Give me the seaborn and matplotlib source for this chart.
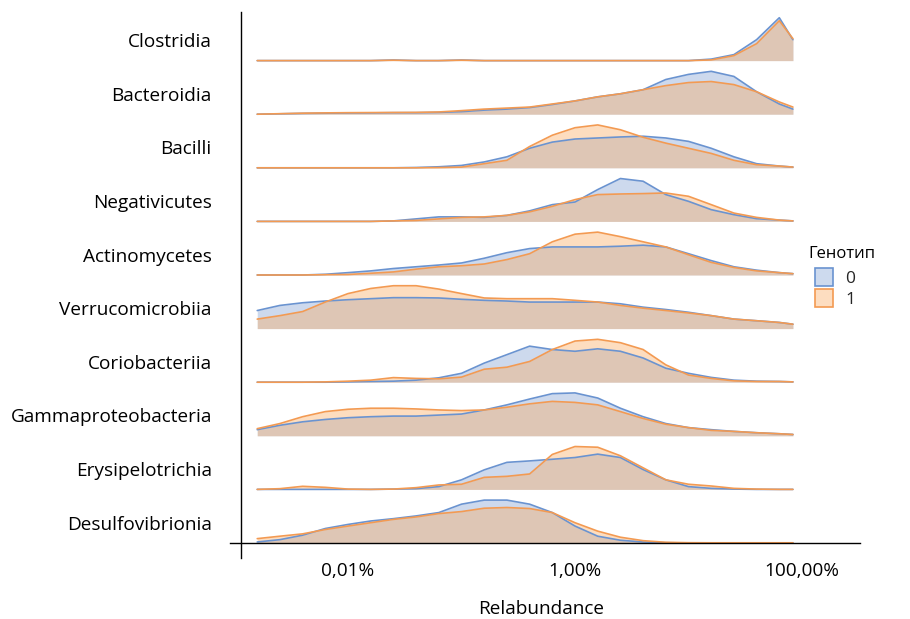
import matplotlib
matplotlib.use("Agg")
import numpy as np
import pandas as pd
import matplotlib.pyplot as plt
from matplotlib.patches import Patch
from matplotlib.ticker import FixedLocator, FixedFormatter, NullLocator
import seaborn as sns

# Bacterial classes, top to bottom
classes = ["Clostridia", "Bacteroidia", "Bacilli", "Negativicutes", "Actinomycetes",
           "Verrucomicrobiia", "Coriobacteriia", "Gammaproteobacteria",
           "Erysipelotrichia", "Desulfovibrionia"]

# Evaluation points of the density curves, log10 of relative abundance (%)
log_grid = [-2.8, -2.6, -2.4, -2.2, -2.0, -1.8, -1.6, -1.4, -1.2, -1.0, -0.8, -0.6,
            -0.4, -0.2, 0.0, 0.2, 0.4, 0.6, 0.8, 1.0, 1.2, 1.4, 1.6, 1.8, 1.92]

genotypes = ["0", "1"]

# Density of each class per genotype (arbitrary units)
clostridia_g0 = [0, 0, 0, 0, 0, 0, 0.6, 0, 0, 0.6, 0, 0, 0, 0, 0, 0, 0, 0, 0, 0, 1.5, 6, 21, 43, 21]
clostridia_g1 = [0, 0, 0, 0, 0, 0, 0.4, 0, 0, 0.4, 0, 0, 0, 0, 0, 0, 0, 0, 0, 0, 0.7, 5, 17, 40, 22]

bacteroidia_g0 = [0, 0.4, 0.8, 1, 1.2, 1.3, 1.5, 1.5, 1.8, 2.5, 4, 5, 6.5, 9.5, 13, 17, 20, 24, 34, 39, 42, 37, 22, 10, 5]
bacteroidia_g1 = [0, 0.5, 1, 1.3, 1.5, 1.6, 1.7, 1.8, 2.2, 3.5, 5, 6, 7, 10, 13, 17, 20, 24, 28, 31, 32, 29, 22, 12, 7]

bacilli_g0 = [0, 0, 0, 0, 0, 0, 0, 0.3, 1, 2.3, 5.7, 10.7, 19, 25, 28, 29, 30, 30.7, 29, 25.7, 19, 10.7, 4, 1.7, 0.7]
bacilli_g1 = [0, 0, 0, 0, 0, 0, 0, 0, 0.2, 0.7, 4, 7.3, 20.7, 31.7, 39, 41.7, 37, 29.7, 24, 19, 14, 7.3, 3, 1.7, 0.7]

negativicutes_g0 = [0, 0, 0, 0, 0, 0, 0.5, 2.5, 4.5, 4.5, 4, 6, 10.5, 16.7, 19.3, 31.7, 42.7, 40, 26.7, 20, 11.7, 6.7, 2.7, 1.3, 0.5]
negativicutes_g1 = [0, 0, 0, 0, 0, 0, 0.5, 1, 2.5, 4, 4.5, 6, 9.5, 15, 21.7, 26.7, 27.3, 27.7, 28.3, 25, 16.7, 8.3, 4, 1.3, 0.5]

actinomycetes_g0 = [0, 0, 0, 0.7, 2.3, 4, 6.3, 8, 9.7, 11.7, 16.3, 21.7, 25.7, 27.3, 27.3, 27.3, 28, 29, 27.3, 20.7, 14, 8, 4.7, 2.3, 1.3]
actinomycetes_g1 = [0, 0, 0, 0.3, 0.5, 1.7, 3, 5.7, 8, 9, 10.7, 15, 20.7, 32.3, 39.7, 41.7, 37.3, 32.3, 27.3, 19.7, 12.3, 7.3, 4, 2.3, 1.3]

verrucomicrobiia_g0 = [17.7, 22.7, 25.3, 27, 28.3, 29.3, 30.3, 30.3, 30, 28.7, 27.7, 27, 26, 26, 26, 26, 24.3, 21, 18.7, 16, 12.7, 9.3, 7.7, 6, 4.3]
verrucomicrobiia_g1 = [9.3, 12.7, 16.7, 26, 34.3, 39.3, 42, 42, 38.7, 34.3, 30, 29.3, 29.3, 29.3, 27.7, 26, 22.7, 20, 17.7, 15.3, 12.7, 9.3, 7.7, 6, 4.3]

coriobacteriia_g0 = [0, 0, 0, 0, 0.3, 0.7, 1, 2, 4.3, 8.7, 18.7, 27, 35.3, 32, 30.3, 32.7, 30.3, 23.7, 13.7, 8.7, 4.7, 2, 1, 0.7, 0.3]
coriobacteriia_g1 = [0, 0, 0, 0.3, 1, 2, 4.5, 3.7, 3.3, 5, 12.7, 14.7, 20.3, 32, 40.3, 42, 38.7, 32, 17, 7, 3.7, 1.3, 0.7, 0.7, 0.3]

gammaproteobacteria_g0 = [6, 10.3, 13.7, 16, 17.7, 18.7, 19.3, 19.3, 20.3, 21.3, 25.3, 30.3, 36, 41.3, 42, 37, 27, 18.7, 12, 8, 6, 4.3, 3, 2, 1.3]
gammaproteobacteria_g1 = [7, 12, 18.7, 23.7, 26, 27, 27, 26.3, 25.3, 24.7, 25.3, 28, 31.3, 33.7, 32.7, 30.3, 23.7, 17, 11.3, 8, 5.3, 4.3, 3, 2, 1.3]

erysipelotrichia_g0 = [0, 0, 0, 0, 0, 0, 0.3, 0.7, 2.7, 9.3, 19, 26.3, 27.7, 29.3, 31, 34.3, 31, 19.3, 9.3, 2.7, 1, 0.3, 0, 0, 0]
erysipelotrichia_g1 = [0, 0.7, 3, 2, 0.3, 0, 0.3, 1.7, 4.3, 5, 11.7, 12.7, 15, 34, 41.7, 41, 32.7, 21, 9.3, 5, 3.3, 1, 0.3, 0, 0]

desulfovibrionia_g0 = [1, 3.3, 7.7, 14.3, 18.3, 21.7, 24, 26.7, 30, 38.3, 42.3, 42.3, 38.3, 30, 16.7, 6.7, 2.7, 1, 0.3, 0, 0, 0, 0, 0, 0]
desulfovibrionia_g1 = [4.3, 6.7, 9, 13.3, 16.7, 20, 23.3, 25.7, 29, 31, 34.3, 35, 34, 30, 20, 11.7, 5.7, 2.3, 0.7, 0.3, 0.2, 0.2, 0.2, 0.2, 0.2]

series = [
    (clostridia_g0, clostridia_g1),
    (bacteroidia_g0, bacteroidia_g1),
    (bacilli_g0, bacilli_g1),
    (negativicutes_g0, negativicutes_g1),
    (actinomycetes_g0, actinomycetes_g1),
    (verrucomicrobiia_g0, verrucomicrobiia_g1),
    (coriobacteriia_g0, coriobacteriia_g1),
    (gammaproteobacteria_g0, gammaproteobacteria_g1),
    (erysipelotrichia_g0, erysipelotrichia_g1),
    (desulfovibrionia_g0, desulfovibrionia_g1),
]

tick_values = [0.01, 1, 100]
tick_labels = ["0,01%", "1,00%", "100,00%"]

# Long table: one row per class / genotype / grid point
rows = []
n = len(classes)
for i, (name, pair) in enumerate(zip(classes, series)):
    peak = max(max(pair[0]), max(pair[1]))
    base = n - 1 - i
    for g, vals in zip(genotypes, pair):
        for lg, v in zip(log_grid, vals):
            rows.append({"class": name, "genotype": g, "abundance": 10.0 ** lg,
                         "base": base, "ridge": base + 0.8 * v / peak})
df = pd.DataFrame(rows)

line_colors = {"0": "#6a93d0", "1": "#f39a52"}
fill_colors = {"0": "#82a2d4", "1": "#faaa61"}
legend_faces = {"0": "#cddaee", "1": "#fdddc0"}

sns.set_theme(style="white")
plt.rcParams["font.family"] = ["Open Sans", "DejaVu Sans"]
FS = 13.7

W, H = 910, 619
fig = plt.figure(figsize=(W / 100, H / 100), dpi=100)
ax = fig.add_axes([230 / W, 1 - 558 / H, 630 / W, 546 / H])
ax.set_xscale("log")

for name in classes:
    for g in genotypes:
        sub = df[(df["class"] == name) & (df["genotype"] == g)]
        ax.fill_between(sub["abundance"], sub["base"], sub["ridge"],
                        color=fill_colors[g], alpha=0.4, lw=0)
        sns.lineplot(data=sub, x="abundance", y="ridge", color=line_colors[g],
                     lw=1.2, estimator=None, legend=False, ax=ax)

# Axis geometry (log10 decades -> axis span)
ax.set_xlim(10 ** -3.04, 10 ** 2.511)
ax.set_ylim(-0.28, 9.907)

ax.spines["top"].set_visible(False)
ax.spines["right"].set_visible(False)
ax.spines["left"].set_position(("data", 10 ** -2.943))
ax.spines["bottom"].set_position(("data", 0))
for s in ("left", "bottom"):
    ax.spines[s].set_color("black")
    ax.spines[s].set_linewidth(1.0)

ax.xaxis.set_major_locator(FixedLocator(tick_values))
ax.xaxis.set_major_formatter(FixedFormatter(tick_labels))
ax.xaxis.set_minor_locator(NullLocator())
ax.tick_params(axis="x", length=0, pad=14, labelsize=FS, colors="black")

ax.set_yticks([n - 1 - i + 0.38 for i in range(n)])
ax.set_yticklabels(classes)
ax.tick_params(axis="y", length=0, pad=21, labelsize=FS, colors="black")
ax.set_xlabel("")
ax.set_ylabel("")
ax.grid(False)

fig.text(541 / W, 1 - 609 / H, "Relabundance", ha="center", va="center",
         fontsize=FS, color="black")

# Legend: title on its own, patches indented below it
fig.text(808 / W, 1 - 254 / H, "Генотип", ha="left", va="center",
         fontsize=12, color="black")
handles = [Patch(facecolor=legend_faces[g], edgecolor=line_colors[g], lw=1.2, label=g)
           for g in genotypes]
fig.legend(handles=handles, loc="upper left",
           bbox_to_anchor=(815 / W, 1 - 268 / H), frameon=False,
           fontsize=12.5, handlelength=1.05, handleheight=1.25, labelspacing=0.12,
           handletextpad=0.7, borderpad=0, borderaxespad=0)

fig.savefig("out.png", dpi=100)
